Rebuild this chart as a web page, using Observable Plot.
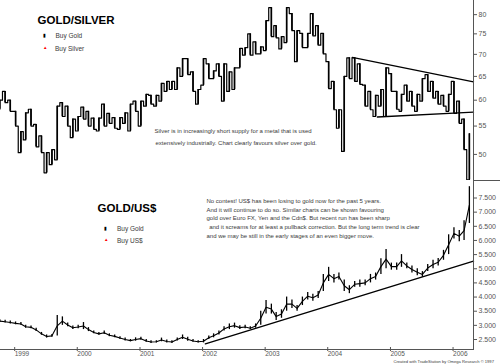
<!DOCTYPE html>
<html>
<head>
<meta charset="utf-8">
<script src="https://cdn.jsdelivr.net/npm/d3@7"></script>
<script src="https://cdn.jsdelivr.net/npm/@observablehq/plot@0.6"></script>
<style>
  html, body { margin: 0; padding: 0; background: #fff; }
  #chart { width: 500px; height: 364px; position: relative; overflow: hidden; }
  #chart svg { display: block; }
</style>
</head>
<body>
<div id="chart"></div>
<script>
// ---- Data (monthly bars, Oct 1998 .. Apr 2006) ----
const firstMonth = "1998-10-01";
const lastMonthExclusive = "2006-05-01";

// Gold / Silver ratio, monthly low and high
const ratioLo = [58.2,59.5,57.8,55.0,50.3,52.5,55.0,51.3,50.3,47.0,48.3,49.1,56.8,55.0,52.9,54.1,56.3,55.0,54.4,54.1,
  55.0,55.5,54.6,54.4,55.5,54.1,57.8,55.0,58.8,59.2,58.8,59.8,61.8,62.2,62.2,65.0,65.4,61.8,59.2,63.1,
  64.5,64.5,65.0,59.8,61.8,62.2,66.9,69.8,69.8,70.1,70.1,70.9,74.3,74.0,71.3,72.8,75.8,68.3,71.6,71.6,
  74.5,72.2,70.1,62.4,58.1,54.6,50.5,64.5,63.9,63.3,58.8,58.1,56.8,58.8,56.8,61.8,58.2,57.8,59.8,58.8,
  57.8,59.8,61.8,60.4,59.2,58.8,57.8,57.4,55.5,50.8,45.9];
const ratioHi = [60.0,61.8,60.0,57.8,54.0,57.5,58.2,55.3,53.2,50.3,50.8,58.8,59.5,58.8,56.3,56.8,58.6,57.8,56.5,56.5,
  59.2,57.4,56.6,56.6,57.5,59.2,59.8,59.8,61.2,61.0,61.0,63.5,63.9,63.9,66.9,69.0,69.0,66.0,62.2,69.0,
  67.8,66.2,67.8,67.8,66.0,66.9,71.4,71.6,75.0,73.0,71.8,78.4,81.9,77.1,74.3,81.9,80.3,75.8,75.1,75.1,
  80.3,77.1,75.1,68.3,63.9,58.1,65.0,69.2,69.2,67.8,63.1,61.8,61.0,62.2,66.9,65.6,61.8,61.2,63.1,61.8,
  61.2,64.5,65.4,63.9,61.8,61.0,61.2,63.9,59.8,56.3,53.6];

// Gold / US$, monthly low and high (axis units as labelled)
const goldLo = [3.10,3.08,3.05,3.02,3.00,2.90,2.88,2.78,2.65,2.55,2.58,2.62,3.00,2.95,2.85,2.88,2.85,2.78,2.70,2.65,
  2.68,2.60,2.56,2.50,2.45,2.42,2.44,2.48,2.40,2.36,2.38,2.42,2.38,2.36,2.45,2.50,2.44,2.40,2.38,2.38,
  2.50,2.56,2.66,2.80,2.85,2.90,2.85,2.88,2.85,2.90,3.00,3.40,3.40,3.17,3.25,3.50,3.60,3.50,3.70,3.90,
  3.85,3.95,4.20,4.55,4.50,4.60,4.20,4.12,4.35,4.35,4.40,4.50,4.60,4.80,5.00,4.95,4.95,5.05,5.00,4.85,
  4.75,4.70,4.90,5.00,5.10,5.30,5.50,6.05,5.95,6.00,6.60];
const goldHi = [3.20,3.18,3.15,3.12,3.10,3.00,2.98,2.90,2.75,2.66,2.68,3.35,3.30,3.08,2.98,3.00,3.10,2.92,2.80,2.75,
  2.80,2.70,2.66,2.60,2.55,2.50,2.56,2.58,2.50,2.46,2.46,2.55,2.48,2.46,2.55,2.66,2.58,2.50,2.46,2.50,
  2.62,2.70,2.80,2.95,3.05,3.08,2.99,3.00,2.95,3.05,3.50,3.88,3.75,3.45,3.55,4.00,3.90,3.70,4.00,4.16,
  4.10,4.20,4.80,5.05,4.80,4.85,4.60,4.40,4.55,4.60,4.60,4.80,4.85,5.35,5.68,5.20,5.20,5.50,5.20,5.10,
  5.00,4.90,5.15,5.30,5.36,5.65,6.20,6.45,6.35,6.70,7.90];

// Trend lines (end points)
const ratioUpperTrend = [{date: "2004-06-01", v: 69.3}, {date: "2006-05-09", v: 63.8}];
const ratioLowerTrend = [{date: "2004-10-25", v: 56.7}, {date: "2006-05-09", v: 57.65}];
const goldTrend = [{date: "2002-01-26", v: 2.348}, {date: "2006-05-09", v: 5.267}];

// Axis ticks
const ratioTicks = [50, 55, 60, 65, 70, 75, 80];
const goldTicks = [2.5, 3.0, 3.5, 4.0, 4.5, 5.0, 5.5, 6.0, 6.5, 7.0, 7.5];
const yearTicks = ["1999", "2000", "2001", "2002", "2003", "2004", "2005", "2006"];

// Texts
const topTitle = "GOLD/SILVER";
const topLegend = ["Buy Gold", "Buy Silver"];
const topNote = ["Silver is in increasingly short supply for a metal that is used",
                 "extensively industrially. Chart clearly favours silver over gold."];
const bottomTitle = "GOLD/US$";
const bottomLegend = ["Buy Gold", "Buy US$"];
const bottomNote = ["No contest! US$ has been losing to gold now for the past 5 years.",
  "And it will continue to do so. Similar charts can be shown favouring",
  "gold over Euro FX, Yen and the Cdn$. But recent run has been sharp",
  " and it screams for at least a pullback correction. But the long term trend is clear",
  "and we may be still in the early stages of an even bigger move."];
const footer = "Created with TradeStation by Omega Research \u00A9 1997";

// ---- Build tables ----
const months = d3.utcMonth.range(new Date(firstMonth), new Date(lastMonthExclusive)).map(m => d3.utcDay.offset(m, 14));
const ratioRows = months.map((d, i) => ({date: d, lo: ratioLo[i], hi: ratioHi[i]}));
const goldRows = months.map((d, i) => ({date: d, lo: goldLo[i], hi: goldHi[i], mid: (goldLo[i] + goldHi[i]) / 2}));
function barPath(rows) {
  const out = [];
  rows.forEach((r, i) => {
    const n = rows[i + 1];
    const up = n ? (n.lo + n.hi) > (r.lo + r.hi) : true;
    if (up) out.push({date: r.date, v: r.lo}, {date: r.date, v: r.hi});
    else out.push({date: r.date, v: r.hi}, {date: r.date, v: r.lo});
  });
  return out;
}
const parseTrend = t => t.map(d => ({date: new Date(d.date), v: d.v}));

const xDomain = [new Date("1998-10-19"), new Date("2006-05-09")];
const font = "'Liberation Sans', Arial, sans-serif";
const textColor = "#3a3a3a";

function label(text, dx, dy, opts = {}) {
  return Plot.text([text], {frameAnchor: "top-left", dx, dy, textAnchor: "start", lineAnchor: "middle",
    fontSize: 6, fill: textColor, ...opts});
}

// ---- Top panel: Gold / Silver ----
const topChart = Plot.plot({
  width: 500, height: 181,
  marginLeft: 0, marginRight: 27, marginTop: 0, marginBottom: 1,
  style: {fontFamily: font, background: "white", overflow: "visible"},
  x: {type: "utc", domain: xDomain, axis: null},
  y: {type: "log", domain: [45.8, 83.9], axis: null},
  marks: [
    Plot.ruleX(ratioRows, {x: "date", y1: "lo", y2: "hi", stroke: "black", strokeWidth: 1.6, clip: true}),
    Plot.line(barPath(ratioRows), {x: "date", y: "v", curve: "step", stroke: "black", strokeWidth: 1.2, clip: true}),
    Plot.line(parseTrend(ratioUpperTrend), {x: "date", y: "v", stroke: "black", strokeWidth: 1.3}),
    Plot.line(parseTrend(ratioLowerTrend), {x: "date", y: "v", stroke: "black", strokeWidth: 1.3}),
    Plot.axisY({anchor: "right", ticks: ratioTicks, tickFormat: d => String(d), tickSize: 3, tickPadding: 2,
      fontSize: 7, color: "#555"}),
    Plot.frame({anchor: "right", stroke: "#555"}),
    Plot.ruleY([45.8], {insetLeft: 473, insetRight: -27, stroke: "#555"}),
    label(topTitle, 37, 20, {fontSize: 11.5, fontWeight: "bold", fill: "black"}),
    label("\u25AE", 42.5, 34.5, {fontSize: 5, fill: "black"}),
    label(topLegend[0], 55, 35, {fontSize: 6.5}),
    label("\u25B2", 42.5, 47.5, {fontSize: 4.5, fill: "red"}),
    label(topLegend[1], 54.5, 48, {fontSize: 6.5}),
    label(topNote[0], 154, 130.5),
    label(topNote[1], 155, 142.8)
  ]
});

// ---- Bottom panel: Gold / US$ ----
const bottomChart = Plot.plot({
  width: 500, height: 183,
  marginLeft: 0, marginRight: 27, marginTop: 0, marginBottom: 15,
  style: {fontFamily: font, background: "white", overflow: "visible"},
  x: {type: "utc", domain: xDomain, axis: null},
  y: {type: "linear", domain: [2.147, 8.083], axis: null},
  marks: [
    Plot.ruleX(goldRows, {x: "date", y1: "lo", y2: "hi", stroke: "black", strokeWidth: 1.3, clip: true}),
    Plot.line(goldRows, {x: "date", y: "mid", stroke: "black", strokeWidth: 1.1, clip: true}),
    Plot.line(parseTrend(goldTrend), {x: "date", y: "v", stroke: "black", strokeWidth: 1.4}),
    Plot.axisY({anchor: "right", ticks: goldTicks, tickFormat: d3.format(".3f"), tickSize: 3, tickPadding: 2,
      fontSize: 7, color: "#555"}),
    Plot.axisX({ticks: yearTicks.map(y => new Date(y + "-01-01")), tickFormat: d3.utcFormat("%Y"),
      tickSize: 4, tickPadding: 0, textAnchor: "start", dx: 1.5, dy: -2, fontSize: 6.5, color: "#555"}),
    Plot.frame({anchor: "right", stroke: "#555"}),
    Plot.frame({anchor: "bottom", stroke: "#555"}),
    label(bottomTitle, 97, 27, {fontSize: 11.5, fontWeight: "bold", fill: "black"}),
    label("\u25AE", 103.5, 47, {fontSize: 5, fill: "black"}),
    label(bottomLegend[0], 116.5, 47.5, {fontSize: 6.5}),
    label("\u25B2", 103.5, 58.5, {fontSize: 4.5, fill: "red"}),
    label(bottomLegend[1], 116.5, 59, {fontSize: 6.5}),
    ...bottomNote.map((s, i) => label(s, i === 3 ? 207 : 206, 19.7 + i * 8.6)),
    label(footer, 393, 180.3, {fontSize: 4.1})
  ]
});

document.getElementById("chart").append(topChart, bottomChart);
</script>
</body>
</html>
